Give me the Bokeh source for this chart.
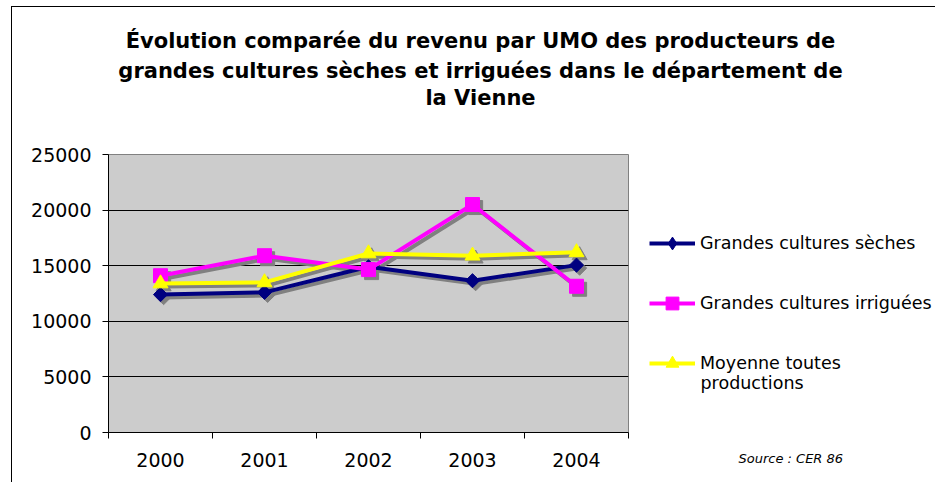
import math
from bokeh.plotting import figure
from bokeh.layouts import column, row
from bokeh.models import Range1d, FixedTicker, Legend, LegendItem, Label, Title
from bokeh.embed import file_html
from bokeh.resources import INLINE

# ---- data ----
years = ["2000", "2001", "2002", "2003", "2004"]
seches = [12400, 12600, 14900, 13650, 15050]
irriguees = [14100, 15900, 14650, 20500, 13150]
moyenne = [13400, 13500, 16100, 15900, 16200]
y_ticks = [0, 5000, 10000, 15000, 20000, 25000]

series_names = ["Grandes cultures sèches", "Grandes cultures irriguées", "Moyenne toutes"]
series_name_cont = "productions"
title_lines = [
    "Évolution comparée du revenu par UMO des producteurs de",
    "grandes cultures sèches et irriguées dans le département de",
    "la Vienne",
]
source_text = "Source : CER 86"

xs = list(range(len(years)))
FONT = "DejaVu Sans"
colors = ["#000080", "#ff00ff", "#ffff00"]
series = [seches, irriguees, moyenne]
# chart markers: (marker, size, angle) -- the diamond is a square turned 45 degrees
chart_markers = [("square", 10, math.pi / 4), ("square", 14, 0.0), ("triangle", 15, 0.0)]
legend_markers = ["diamond", "square", "triangle"]

TITLE_H = 112
BODY_H = 363
TOP_B = 35
BOT_B = 50


def blank_fig(w, h, **kw):
    f = figure(width=w, height=h, output_backend="svg", toolbar_location=None,
               x_axis_type=None, y_axis_type=None, **kw)
    f.outline_line_color = None
    f.background_fill_color = "white"
    f.border_fill_color = "white"
    f.grid.visible = False
    return f


# ---------------- title block ----------------
title_fig = blank_fig(923, TITLE_H, min_border=0)
for ty, t in zip([79, 49, 22], title_lines):
    title_fig.add_layout(Label(x=468, y=ty, x_units="screen", y_units="screen", text=t,
                               text_font=FONT, text_font_size="21px",
                               text_font_style="bold", text_align="center",
                               text_baseline="middle", text_color="black"))

# ---------------- main chart ----------------
p = figure(width=626, height=BODY_H, output_backend="svg", toolbar_location=None,
           x_range=Range1d(-0.5, len(years) - 0.5), y_range=Range1d(0, 25000),
           min_border_left=96, min_border_right=10, min_border_top=TOP_B,
           min_border_bottom=BOT_B)
p.background_fill_color = "#cccccc"
p.border_fill_color = "white"
p.outline_line_color = "#808080"
p.outline_line_width = 1

p.xgrid.visible = False
p.ygrid.ticker = FixedTicker(ticks=y_ticks)
p.ygrid.grid_line_color = "black"
p.ygrid.grid_line_width = 1

ya = p.yaxis[0]
ya.ticker = FixedTicker(ticks=y_ticks)
ya.axis_line_color = "black"
ya.major_tick_out = 6
ya.major_tick_in = 0
ya.minor_tick_line_color = None
ya.major_label_text_font = FONT
ya.major_label_text_font_size = "19px"
ya.major_label_text_color = "black"
ya.major_label_standoff = 11

xa = p.xaxis[0]
xa.ticker = FixedTicker(ticks=xs, minor_ticks=[i - 0.5 for i in range(len(years) + 1)])
xa.major_label_overrides = {i: y for i, y in enumerate(years)}
xa.axis_line_color = "black"
xa.major_tick_line_color = None
xa.major_tick_out = 6
xa.major_tick_in = 0
xa.minor_tick_line_color = "black"
xa.minor_tick_out = 6
xa.minor_tick_in = 0
xa.major_label_text_font = FONT
xa.major_label_text_font_size = "19px"
xa.major_label_text_color = "black"
xa.major_label_standoff = 14

# drop shadows (offset copies of the series)
dx, dy = 0.03, -270
for vals in series:
    p.line([x + dx for x in xs], [v + dy for v in vals], line_color="#808080", line_width=4)
for (m, s, a), vals in zip(chart_markers, series):
    p.scatter([x + dx for x in xs], [v + dy for v in vals], marker=m, size=s, angle=a,
              fill_color="#808080", line_color="#808080")

for vals, c, (m, s, a) in zip(series, colors, chart_markers):
    p.line(xs, vals, line_color=c, line_width=4)
    p.scatter(xs, vals, marker=m, size=s, angle=a, fill_color=c, line_color=c)

# ---------------- legend / source block ----------------
side = blank_fig(297, BODY_H, min_border_left=0, min_border_right=0,
                 min_border_top=TOP_B, min_border_bottom=BOT_B)
# ranges chosen away from the data: the renderers below only feed the legend icons
side.x_range = Range1d(100, 101)
side.y_range = Range1d(100, 101)
items = []
for name, vals, c, m in zip(series_names, series, colors, legend_markers):
    l = side.line(xs, vals, line_color=c, line_width=4)
    sc = side.scatter(xs, vals, marker=m, size=13, fill_color=c, line_color=c)
    items.append(LegendItem(label=name, renderers=[l, sc]))
legend = Legend(items=items, location=(11, 53), orientation="vertical",
                padding=0, margin=0, spacing=28, glyph_width=46, glyph_height=32,
                label_height=32, label_standoff=5,
                label_text_font=FONT, label_text_font_size="17.5px",
                label_text_color="black",
                border_line_alpha=0, background_fill_alpha=0)
side.add_layout(legend)
side.add_layout(Label(x=62, y=50, x_units="screen", y_units="screen", text=series_name_cont,
                      text_font=FONT, text_font_size="17.5px", text_baseline="middle",
                      text_align="left", text_color="black"))
side.add_layout(Title(text=source_text, align="left", offset=100, standoff=33,
                      text_font=FONT, text_font_size="13px", text_font_style="italic",
                      text_color="black"), "below")

layout = column(title_fig, row(p, side, spacing=0), spacing=0)
layout.styles = {"border-left": "1px solid black", "border-top": "1px solid black",
                 "margin-left": "11px", "margin-top": "6px"}

open("out.html", "w").write(file_html(layout, INLINE))
